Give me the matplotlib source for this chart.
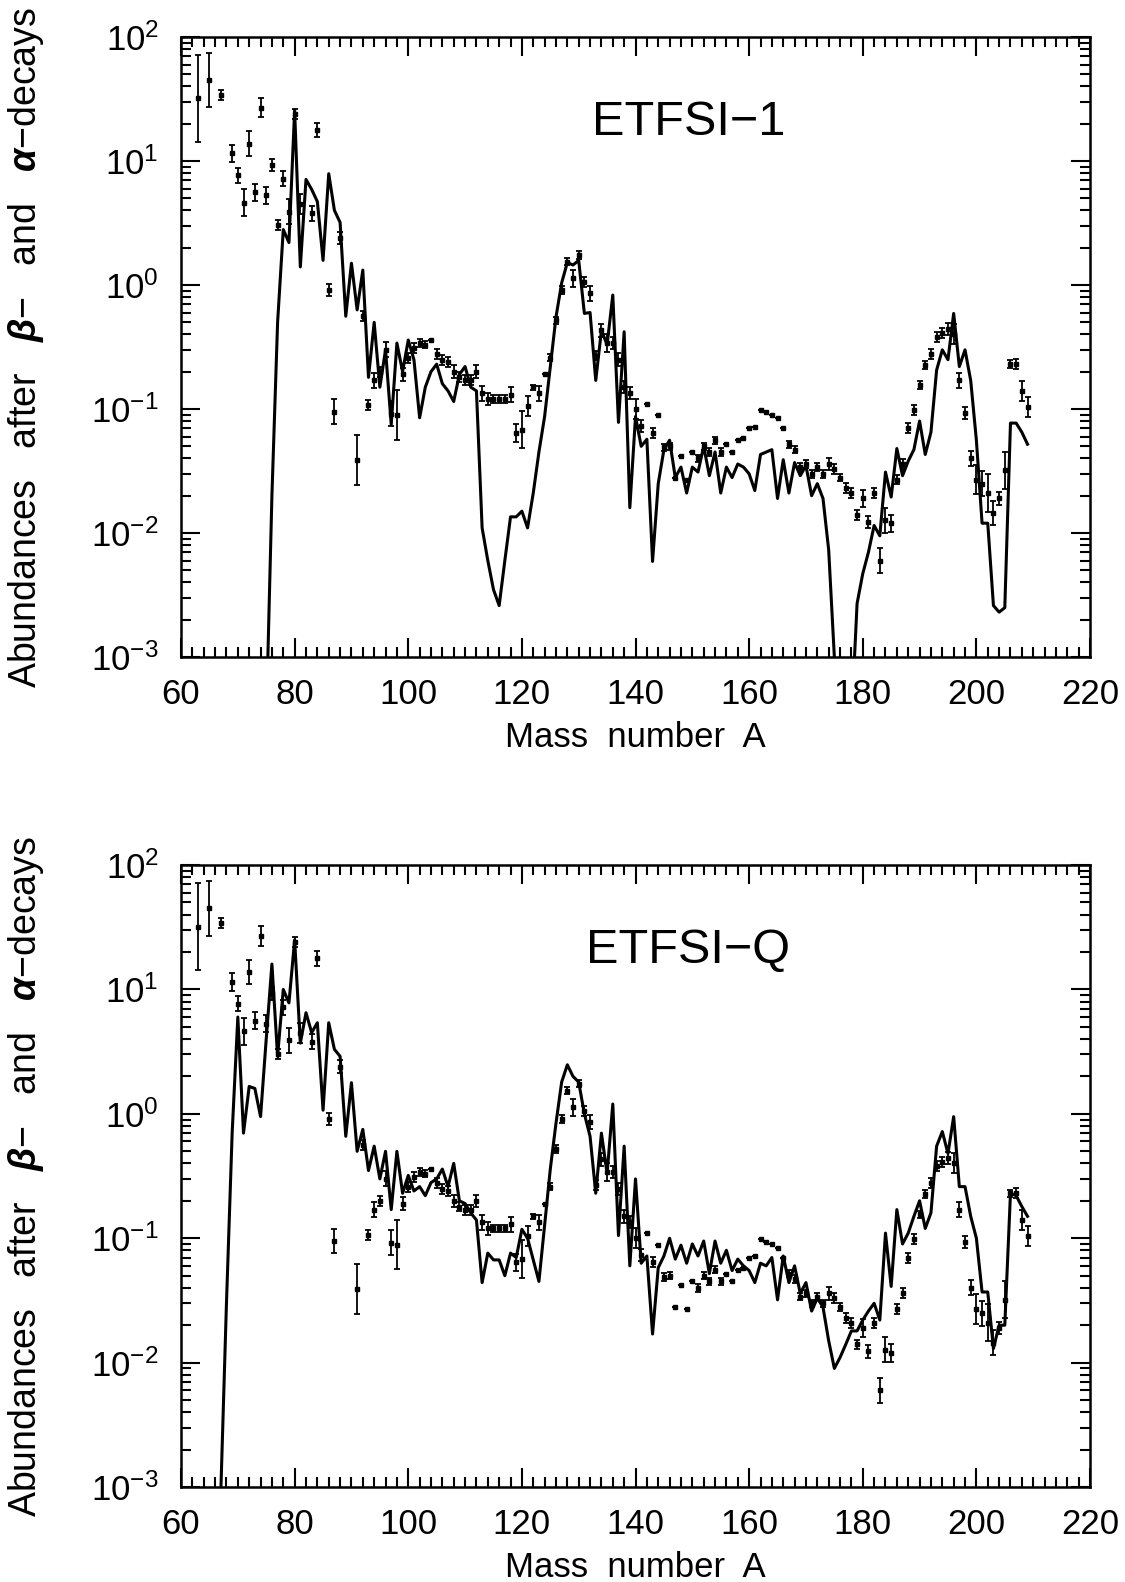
import matplotlib
matplotlib.use("Agg")
import matplotlib.pyplot as plt
from matplotlib.ticker import MultipleLocator, LogLocator, NullFormatter
import numpy as np

plt.rcParams['font.family'] = ['Liberation Sans', 'DejaVu Sans']
plt.rcParams['mathtext.fontset'] = 'custom'
plt.rcParams['mathtext.rm'] = 'Liberation Sans'
plt.rcParams['mathtext.it'] = 'Liberation Sans:italic'
plt.rcParams['mathtext.bf'] = 'Liberation Sans:bold'
plt.rcParams['mathtext.bfit'] = 'Liberation Sans:italic:bold'

# observed abundances (same in both panels)
A_obs = [63, 65, 67, 69, 70, 71, 72, 73, 74, 75, 76, 77, 78, 79, 80, 81, 83, 84,
         86, 87, 88, 91, 92, 93, 94, 95, 96, 97, 98, 99, 100, 101, 102, 103, 104,
         105, 106, 107, 108, 109, 110, 111, 112, 113, 114, 115, 116, 117, 118, 119,
         120, 121, 122, 123, 124, 125, 126, 127, 128, 129, 130, 131, 132, 133, 134,
         135, 136, 137, 138, 139, 140, 141, 142, 143, 144, 145, 146, 147, 148, 149,
         150, 151, 152, 153, 154, 155, 156, 157, 158, 159, 160, 161, 162, 163, 164,
         165, 166, 167, 168, 169, 170, 171, 172, 173, 174, 175, 176, 177, 178, 179,
         180, 181, 182, 183, 184, 185, 186, 187, 188, 189, 190, 191, 192, 193, 194,
         195, 196, 197, 198, 199, 200, 201, 202, 203, 204, 205, 206, 207, 208, 209]
N_obs = [32, 45, 34, 11.5, 7.7, 4.6, 13.8, 5.6, 27, 5.3, 9.3, 3.05, 7.2, 3.9, 24, 4.5, 3.8, 17.8,
         0.91, 0.095, 2.4, 0.039, 0.56, 0.107, 0.17, 0.2, 0.30, 0.092, 0.089, 0.19, 0.26, 0.31, 0.34, 0.33, 0.36,
         0.28, 0.25, 0.24, 0.2, 0.18, 0.17, 0.17, 0.2, 0.134, 0.12, 0.12, 0.12, 0.12, 0.13, 0.064,
         0.068, 0.105, 0.15, 0.134, 0.19, 0.26, 0.52, 0.91, 1.54, 1.13, 1.75, 1.06, 0.86, 0.27, 0.43,
         0.34, 0.34, 0.25, 0.15, 0.135, 0.1, 0.073, 0.11, 0.064, 0.089, 0.049, 0.05, 0.028, 0.042, 0.027,
         0.045, 0.04, 0.05, 0.045, 0.056, 0.045, 0.052, 0.045, 0.056, 0.058, 0.07, 0.072, 0.098, 0.094, 0.09,
         0.084, 0.07, 0.052, 0.047, 0.034, 0.036, 0.03, 0.034, 0.03, 0.036, 0.033, 0.028, 0.023, 0.021, 0.014,
         0.019, 0.0123, 0.021, 0.006, 0.0127, 0.012, 0.027, 0.036, 0.07, 0.098, 0.156, 0.227, 0.28, 0.38, 0.41,
         0.44, 0.40, 0.17, 0.093, 0.04, 0.027, 0.025, 0.021, 0.0145, 0.019, 0.032, 0.23, 0.23, 0.14, 0.104]
# error half-width in dex
dex_obs = [0.35, 0.22, 0.04, 0.07, 0.06, 0.11, 0.10, 0.07, 0.08, 0.07, 0.05, 0.04, 0.06, 0.10, 0.04, 0.08, 0.06, 0.06,
           0.05, 0.10, 0.05, 0.20, 0.04, 0.04, 0.06, 0.04, 0.06, 0.10, 0.20, 0.05, 0.04, 0.04, 0.03, 0.03, 0.0,
           0.04, 0.04, 0.04, 0.05, 0.04, 0.04, 0.04, 0.05, 0.06, 0.05, 0.03, 0.03, 0.03, 0.06, 0.07,
           0.15, 0.08, 0.02, 0.06, 0.0, 0.03, 0.03, 0.03, 0.03, 0.07, 0.03, 0.04, 0.06, 0.04, 0.05,
           0.07, 0.05, 0.05, 0.05, 0.05, 0.08, 0.05, 0.0, 0.04, 0.0, 0.03, 0.03, 0.0, 0.0, 0.0,
           0.0, 0.03, 0.03, 0.03, 0.03, 0.03, 0.0, 0.0, 0.0, 0.0, 0.0, 0.0, 0.0, 0.0, 0.0,
           0.0, 0.0, 0.03, 0.03, 0.03, 0.03, 0.03, 0.03, 0.03, 0.05, 0.04, 0.03, 0.04, 0.04, 0.04,
           0.07, 0.05, 0.04, 0.10, 0.10, 0.07, 0.04, 0.04, 0.04, 0.04, 0.03, 0.03, 0.04, 0.04, 0.04,
           0.05, 0.08, 0.06, 0.05, 0.06, 0.12, 0.10, 0.15, 0.10, 0.05, 0.15, 0.03, 0.04, 0.08, 0.08]

# ETFSI-1 calculation
A_etfsi1 = list(range(75, 210))
N_etfsi1 = [3e-4, 0.02, 0.5, 2.8, 2.2, 25.7, 1.4, 7.1, 5.9, 4.7, 1.58, 7.9, 4.0, 3.2, 0.56,
            1.5, 0.63, 1.32, 0.18, 0.5, 0.15, 0.3, 0.075, 0.34, 0.2, 0.36, 0.25, 0.085, 0.15, 0.2,
            0.23, 0.16, 0.14, 0.115, 0.19, 0.22, 0.15, 0.14, 0.011, 0.006, 0.0035, 0.0026, 0.006, 0.0135, 0.0135,
            0.015, 0.011, 0.021, 0.045, 0.087, 0.22, 0.55, 1.04, 1.52, 1.45, 1.58, 0.59, 0.6, 0.17, 0.43,
            0.33, 0.83, 0.078, 0.42, 0.016, 0.087, 0.05, 0.057, 0.0059, 0.025, 0.047, 0.056, 0.028, 0.034, 0.021,
            0.034, 0.031, 0.05, 0.029, 0.045, 0.021, 0.034, 0.028, 0.036, 0.034, 0.03, 0.022, 0.043, 0.045, 0.047,
            0.019, 0.039, 0.021, 0.037, 0.029, 0.035, 0.02, 0.025, 0.019, 0.0073, 0.001, 3e-4, 3e-4, 3e-4, 0.0027,
            0.0047, 0.007, 0.0115, 0.0095, 0.031, 0.0195, 0.048, 0.029, 0.038, 0.047, 0.08, 0.043, 0.065, 0.206, 0.30,
            0.25, 0.59, 0.22, 0.3, 0.17, 0.056, 0.012, 0.012, 0.0026, 0.0023, 0.0025, 0.077, 0.077, 0.065, 0.052]

# ETFSI-Q calculation
A_etfsiq = list(range(67, 210))
N_etfsiq = [9e-4, 0.03, 0.7, 6.0, 0.7, 1.66, 1.6, 0.95, 4.0, 16, 2.9, 10, 7.8, 25, 3.7, 6.5, 4.5, 5.4,
            1.07, 5.4, 3.3, 2.9, 0.66, 1.78, 0.5, 0.75, 0.35, 0.55, 0.3, 0.5, 0.17, 0.5, 0.23, 0.32,
            0.24, 0.26, 0.22, 0.28, 0.3, 0.36, 0.26, 0.4, 0.2, 0.19, 0.16, 0.14, 0.044, 0.076, 0.067, 0.067,
            0.05, 0.076, 0.07, 0.118, 0.1, 0.067, 0.045, 0.126, 0.36, 0.84, 1.8, 2.48, 2.0, 1.8, 1.0, 0.66,
            0.23, 0.7, 0.33, 1.2, 0.105, 0.55, 0.06, 0.3, 0.063, 0.072, 0.017, 0.058, 0.072, 0.1, 0.068, 0.088,
            0.063, 0.09, 0.072, 0.095, 0.052, 0.095, 0.063, 0.08, 0.055, 0.068, 0.06, 0.055, 0.044, 0.063, 0.06,
            0.07, 0.032, 0.072, 0.044, 0.06, 0.036, 0.044, 0.026, 0.033, 0.028, 0.015, 0.009, 0.011, 0.014, 0.018,
            0.018, 0.022, 0.026, 0.03, 0.022, 0.11, 0.041, 0.17, 0.09, 0.11, 0.15, 0.2, 0.12, 0.16, 0.55, 0.72,
            0.48, 0.95, 0.26, 0.26, 0.15, 0.1, 0.037, 0.037, 0.013, 0.02, 0.02, 0.23, 0.22, 0.18, 0.15]

panel_names = ["ETFSI\u22121", "ETFSI\u2212Q"]

fig = plt.figure(figsize=(11.25, 15.82), dpi=100)
ax1 = fig.add_axes([0.1609, 0.5847, 0.808, 0.3919])
ax2 = fig.add_axes([0.1609, 0.0600, 0.808, 0.3932])

A_o = np.array(A_obs)
N_o = np.array(N_obs)
d_o = np.array(dex_obs)
yerr = [N_o - N_o * 10 ** (-d_o), N_o * 10 ** d_o - N_o]

for ax, A_c, N_c, name in [(ax1, A_etfsi1, N_etfsi1, panel_names[0]),
                           (ax2, A_etfsiq, N_etfsiq, panel_names[1])]:
    ax.plot(A_c, N_c, color="black", lw=2.2)
    ax.errorbar(A_o, N_o, yerr=yerr, fmt="s", ms=3, color="black",
                ecolor="black", elinewidth=1.3, capsize=2, capthick=1.3)
    ax.set_yscale("log")
    ax.set_xlim(60, 220)
    ax.set_ylim(1e-3, 1e2)
    ax.xaxis.set_major_locator(MultipleLocator(20))
    ax.xaxis.set_minor_locator(MultipleLocator(2))
    ax.yaxis.set_major_locator(LogLocator(base=10, numticks=10))
    ax.yaxis.set_minor_locator(LogLocator(base=10, subs=np.arange(2, 10), numticks=20))
    ax.yaxis.set_minor_formatter(NullFormatter())
    ax.tick_params(which="both", direction="in", top=True, right=True, width=1.5)
    ax.tick_params(which="major", length=14)
    ax.tick_params(which="minor", length=7)
    ax.tick_params(axis="x", which="major", labelsize=25, pad=15)
    ax.tick_params(axis="y", which="major", labelsize=25, pad=16)
    for s in ax.spines.values():
        s.set_linewidth(1.8)
    ax.set_xlabel("Mass  number  A", fontsize=25, labelpad=7)
    ax.set_ylabel("Abundances   after   $\\boldsymbol{\\beta}$\u2212   and   $\\boldsymbol{\\alpha}$\u2212decays",
                  fontsize=27)
    ax.yaxis.set_label_coords(-0.148, 0.5)
    ax.text(0.558, 0.862, name, transform=ax.transAxes, fontsize=35,
            ha="center", va="center")

fig.savefig("out.png", dpi=100)
